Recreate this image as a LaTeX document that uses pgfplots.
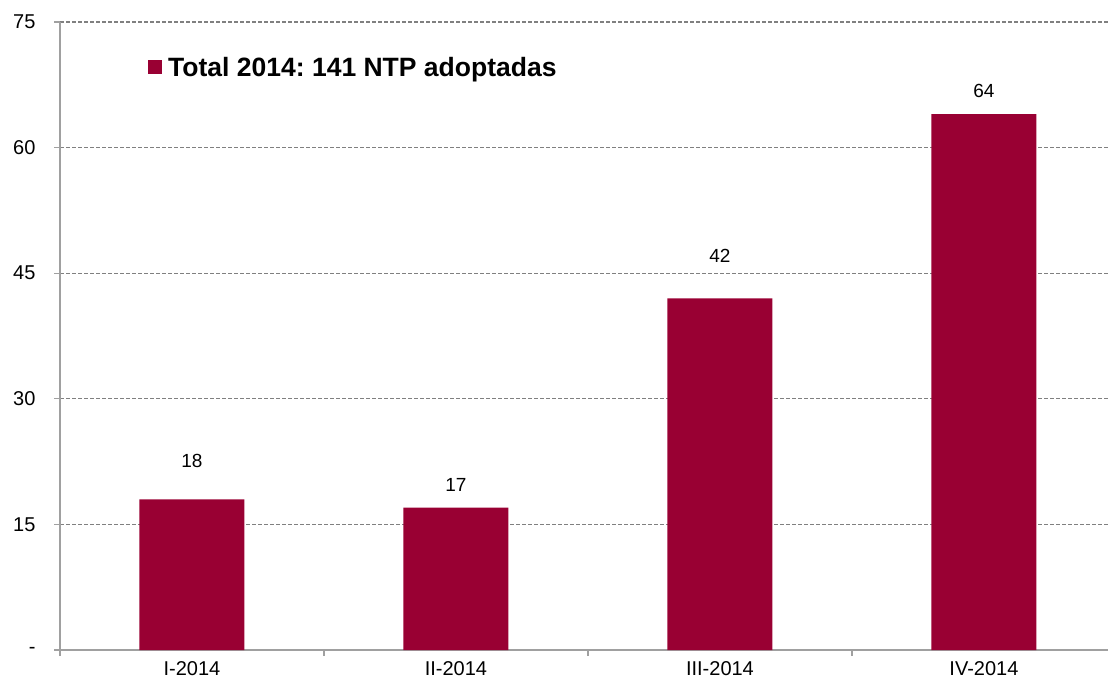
\documentclass[border=0pt]{standalone}
\usepackage{pgfplots}
\pgfplotsset{compat=1.18}
\usepackage{fontspec}
\setmainfont{Liberation Sans}
\definecolor{barc}{HTML}{990033}
\definecolor{gridc}{HTML}{808080}
\definecolor{axc}{HTML}{A0A0A0}
\pgfplotstableread{
x y off
0 18 28
1 17 13
2 42 32
3 64 13
}\datatab
\frenchspacing
\begin{document}
\begin{tikzpicture}
\useasboundingbox (0,0) rectangle (1108pt,686pt);
\begin{axis}[
  at={(60pt,36pt)}, anchor=south west,
  scale only axis, width=1048pt, height=628pt,
  xmin=-0.5, xmax=3.47, ymin=0, ymax=75,
  ybar,
  axis lines=left, axis line style={-, draw=axc, line width=1.3pt},
  xtick={0,1,2,3}, xticklabels={I-2014,II-2014,III-2014,IV-2014},
  minor xtick={-0.5,0.5,1.5,2.5},
  ytick={0,15,30,45,60,75}, yticklabels={-,15,30,45,60,75},
  tick align=outside,
  major x tick style={draw=none},
  minor x tick style={draw=axc, line width=1.3pt},
  minor tick length=6pt,
  major tick length=6pt,
  ytick style={draw=axc, line width=1.3pt},
  ymajorgrids,
  grid style={draw=gridc, dash pattern=on 4pt off 2pt, line width=1.2pt},
  tick label style={font=\fontsize{20}{24}\selectfont},
  yticklabel style={xshift=-15pt},
  xticklabel style={yshift=-2pt},
  /pgf/number format/assume math mode=true,
  legend style={at={(0.084,0.928)}, anchor=west, draw=none, fill=none,
    font=\bfseries\fontsize{26.5}{30}\selectfont, inner sep=0pt},
  legend image code/.code={\fill[barc] (0pt,-7pt) rectangle (14pt,7pt); \path (18pt,0pt);},
]
\addplot[fill=barc, draw=none, bar width=105pt,
  visualization depends on={\thisrow{off}\as\off},
  nodes near coords,
  nodes near coords style={font=\fontsize{19}{22}\selectfont, color=black, yshift=\off}]
  table[x=x, y=y] {\datatab};
\addlegendentry{Total 2014: 141 NTP adoptadas}
\end{axis}
\end{tikzpicture}
\end{document}
